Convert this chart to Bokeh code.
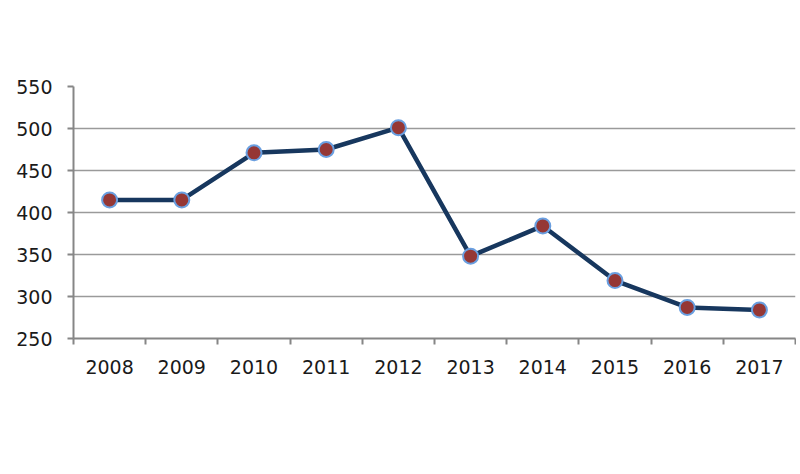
from bokeh.plotting import figure
from bokeh.models import FixedTicker, Range1d
from bokeh.embed import file_html
from bokeh.resources import INLINE

years = ["2008", "2009", "2010", "2011", "2012", "2013", "2014", "2015", "2016", "2017"]
values = [415, 415, 471, 475, 501, 348, 384, 319, 287, 284]
y_ticks = [250, 300, 350, 400, 450, 500, 550]

xs = [i + 0.5 for i in range(len(years))]

p = figure(width=796, height=458, output_backend="svg", toolbar_location=None,
           x_range=Range1d(0, len(years)), y_range=Range1d(250, 550),
           min_border_left=73, min_border_right=1, min_border_top=86, min_border_bottom=120)
p.outline_line_color = None
p.background_fill_color = "white"

p.line(xs, values, line_color="#17375e", line_width=4.5)
p.scatter(xs, values, size=15, fill_color="#953735", line_color="#6a9fe0", line_width=2)

# x axis
xa = p.xaxis[0]
xa.ticker = FixedTicker(ticks=xs, minor_ticks=list(range(len(years) + 1)))
xa.major_label_overrides = {x: y for x, y in zip(xs, years)}
xa.major_tick_out = 0
xa.major_tick_in = 0
xa.minor_tick_out = 6
xa.minor_tick_in = 0
xa.minor_tick_line_color = "#868686"
xa.minor_tick_line_width = 2
xa.axis_line_color = "#868686"
xa.axis_line_width = 2
xa.major_label_text_font = "DejaVu Sans"
xa.major_label_text_font_size = "19px"
xa.major_label_text_color = "#1a1a1a"
xa.major_label_standoff = 15

# y axis
ya = p.yaxis[0]
ya.ticker = FixedTicker(ticks=y_ticks)
ya.minor_tick_line_color = None
ya.major_tick_out = 6
ya.major_tick_in = 0
ya.major_tick_line_color = "#868686"
ya.major_tick_line_width = 2
ya.axis_line_color = "#868686"
ya.axis_line_width = 2
ya.major_label_text_font = "DejaVu Sans"
ya.major_label_text_font_size = "19px"
ya.major_label_text_color = "#1a1a1a"
ya.major_label_standoff = 15

p.xgrid.grid_line_color = None
p.ygrid.ticker = FixedTicker(ticks=y_ticks)
p.ygrid.grid_line_color = "#9a9a9a"
p.ygrid.grid_line_width = 1.5

open("out.html", "w").write(file_html(p, INLINE))
